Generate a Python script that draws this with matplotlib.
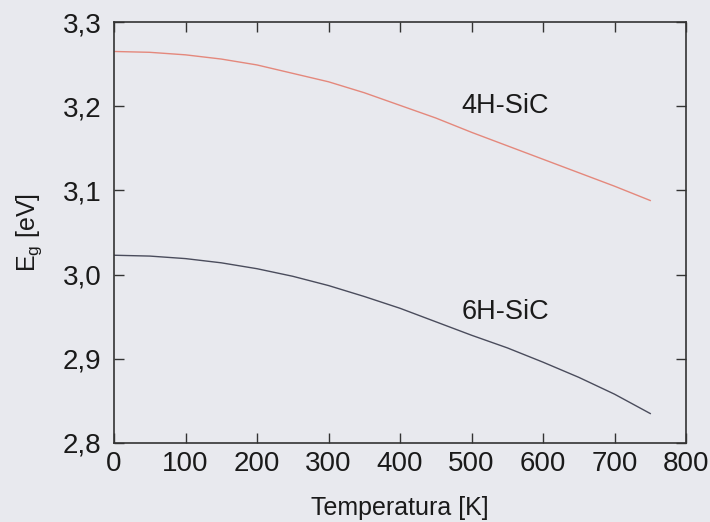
import matplotlib
matplotlib.use("Agg")
import matplotlib.pyplot as plt
from matplotlib.ticker import FuncFormatter

# Data
temperature_K = [0, 50, 100, 150, 200, 250, 300, 350, 400, 450, 500, 550, 600, 650, 700, 750]
eg_4h = [3.265, 3.264, 3.261, 3.256, 3.249, 3.239, 3.229, 3.216, 3.201, 3.186, 3.169, 3.153,
         3.137, 3.121, 3.105, 3.088]
eg_6h = [3.023, 3.022, 3.019, 3.014, 3.007, 2.998, 2.987, 2.974, 2.960, 2.944, 2.928, 2.913,
         2.896, 2.878, 2.858, 2.835]
series_labels = ["4H-SiC", "6H-SiC"]
label_pos = [(547, 3.200), (547, 2.956)]
x_ticks = [0, 100, 200, 300, 400, 500, 600, 700, 800]
y_ticks = [2.8, 2.9, 3.0, 3.1, 3.2, 3.3]

plt.rcParams['font.family'] = ['Liberation Sans', 'DejaVu Sans']
plt.rcParams['mathtext.fontset'] = 'custom'
plt.rcParams['mathtext.rm'] = 'Liberation Sans'

bg = '#e8e9ee'
fig = plt.figure(figsize=(7.10, 5.22), dpi=100, facecolor=bg)
ax = fig.add_axes([114/710, 1-443/522, 572/710, 421/522], facecolor=bg)

ax.plot(temperature_K, eg_4h, color='#e4887c', lw=1.0)
ax.plot(temperature_K, eg_6h, color='#4a4c5c', lw=1.0)

for lab, (tx, ty) in zip(series_labels, label_pos):
    ax.text(tx, ty, lab, fontsize=19.5, ha='center', va='center', color='#1a1a1a')

ax.set_xlim(0, 800)
ax.set_ylim(2.8, 3.3)
ax.set_xticks(x_ticks)
ax.set_yticks(y_ticks)
ax.yaxis.set_major_formatter(FuncFormatter(lambda v, p: f"{v:.1f}".replace('.', ',')))
ax.tick_params(direction='in', length=7, width=1.0, top=True, right=True,
               labelsize=20, colors='#333333', labelcolor='#1a1a1a')
ax.tick_params(axis='x', pad=6)
ax.tick_params(axis='y', pad=9)
for s in ax.spines.values():
    s.set_color('#333333')
    s.set_linewidth(1.2)

ax.set_xlabel('Temperatura [K]', fontsize=18, color='#1a1a1a')
ax.xaxis.set_label_coords(0.5, -0.125)
ax.set_ylabel(r'E$_\mathregular{g}$ [eV]', fontsize=18, color='#1a1a1a')
ax.yaxis.set_label_coords(-0.122, 0.5)

fig.savefig('out.png', dpi=100, facecolor=bg)
